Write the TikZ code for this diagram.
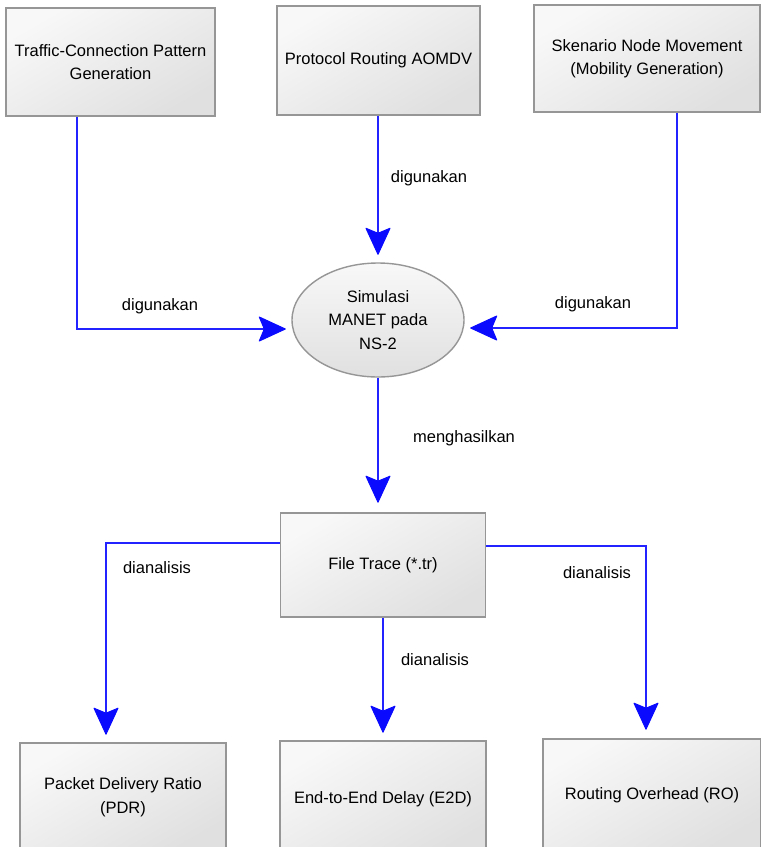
\documentclass[tikz,border=0pt]{standalone}
\usepackage{fontspec}
\setmainfont{Liberation Sans}
\usetikzlibrary{calc,shapes.geometric}
\definecolor{lnblue}{RGB}{35,35,255}
\definecolor{headblue}{RGB}{10,10,255}
\definecolor{bord}{RGB}{150,150,150}
\definecolor{fillA}{RGB}{248,248,248}
\definecolor{fillB}{RGB}{224,224,224}
\begin{document}
\begin{tikzpicture}[x=1pt,y=-1pt,
  every node/.style={font=\fontsize{16.5}{23.5}\selectfont, text=black},
  box/.style={draw=bord, line width=1.6pt, top color=fillA, bottom color=fillB, shading angle=30, align=center, inner sep=0pt},
  oval/.style={ellipse, draw=bord, line width=1.4pt, top color=fillA, bottom color=fillB, align=center, inner sep=0pt},
  conn/.style={draw=lnblue, line width=1.8pt},
  pics/ahead/.style={code={\filldraw[fill=headblue, draw=headblue, line width=1pt, line join=round] (0,0) -- (-26,-12) -- (-21,0) -- (-26,12) -- cycle;}},
  lab/.style={inner sep=0pt}]
\useasboundingbox (0,0) rectangle (761,847);
% top boxes
\node[box, minimum width=209pt, minimum height=108pt] (b1) at (110.5,62) {Traffic-Connection Pattern\\Generation};
\node[box, minimum width=203pt, minimum height=109pt] (b2) at (378.5,60.5) {Protocol Routing AOMDV};
\node[box, minimum width=226pt, minimum height=107pt] (b3) at (647,58.5) {Skenario Node Movement\\(Mobility Generation)};
% ellipse
\node[oval, minimum width=172pt, minimum height=114pt] (sim) at (378,320) {Simulasi\\MANET pada\\NS-2};
% file trace
\node[box, minimum width=205pt, minimum height=104pt] (ft) at (383,565) {File Trace (*.tr)};
% bottom boxes
\node[box, minimum width=206pt, minimum height=108pt] (pdr) at (123,797) {Packet Delivery Ratio\\(PDR)};
\node[box, minimum width=206pt, minimum height=116pt] (e2d) at (383,799) {End-to-End Delay (E2D)};
\node[box, minimum width=218pt, minimum height=112pt] (ro) at (652,795) {Routing Overhead (RO)};
% helper coordinates
\coordinate (c1) at (77,0);
\coordinate (c3) at (677,0);
\coordinate (c5) at (106,0);
\coordinate (c7) at (646,0);
% connectors
\draw[conn, shorten >=20pt] (b1.south -| c1) |- ([yshift=-9pt]sim.west);
\draw[conn, shorten >=22pt] (b2.south -| sim.north) -- (sim.north);
\draw[conn, shorten >=20pt] (b3.south -| c3) |- ([yshift=-8pt]sim.east);
\draw[conn, shorten >=24pt] (sim.south) -- (sim.south |- ft.north);
\draw[conn, shorten >=22pt] ([yshift=22pt]ft.west) -| (pdr.north -| c5);
\draw[conn, shorten >=22pt] (ft.south) -- (ft.south |- e2d.north);
\draw[conn, shorten >=23pt] ([yshift=19pt]ft.east) -| (ro.north -| c7);
% arrowheads
\pic at ($([yshift=-9pt]sim.west)+(-6,0)$) {ahead};
\pic[rotate=-90] at ($(sim.north)+(0,-8)$) {ahead};
\pic[rotate=180] at ($([yshift=-8pt]sim.east)+(6,0)$) {ahead};
\pic[rotate=-90] at ($(sim.south |- ft.north)+(0,-10)$) {ahead};
\pic[rotate=-90] at ($(pdr.north -| c5)+(0,-8)$) {ahead};
\pic[rotate=-90] at ($(ft.south |- e2d.north)+(0,-8)$) {ahead};
\pic[rotate=-90] at ($(ro.north -| c7)+(0,-9)$) {ahead};
% labels
\node[lab] (l1) at (160,306) {digunakan};
\node[lab] (l2) at (429,178) {digunakan};
\node[lab] (l3) at (593,304) {digunakan};
\node[lab] (l4) at (464,438) {menghasilkan};
\node[lab] (l5) at (157,568) {dianalisis};
\node[lab] (l6) at (435,660) {dianalisis};
\node[lab] (l7) at (597,573) {dianalisis};
\end{tikzpicture}
\end{document}
